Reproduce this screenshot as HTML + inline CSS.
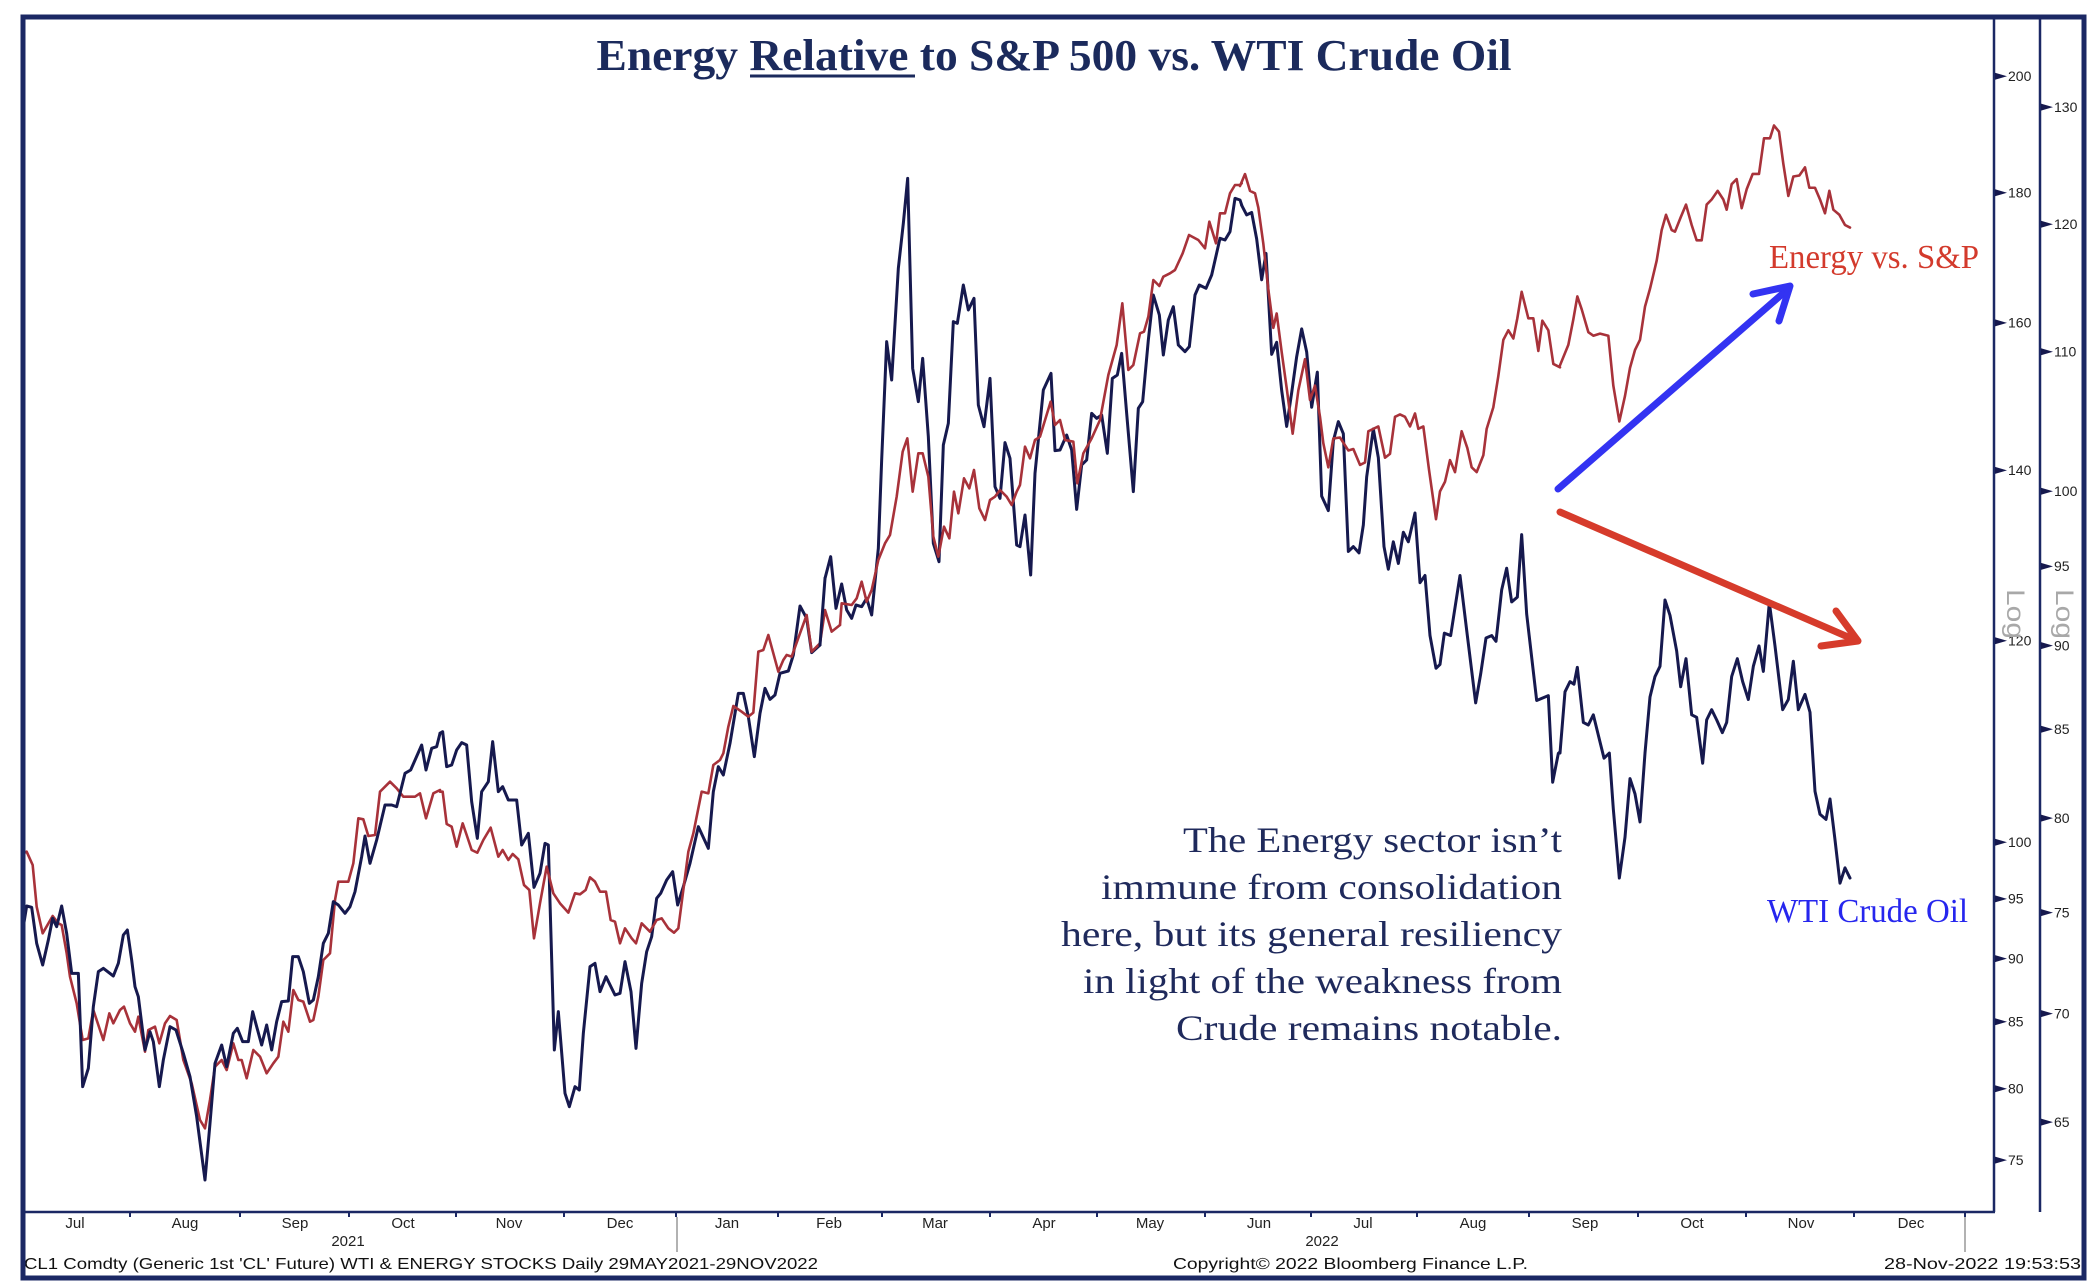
<!DOCTYPE html>
<html>
<head>
<meta charset="utf-8">
<style>
  html,body{margin:0;padding:0;background:#fff;}
  svg{display:block;}
  .ser{fill:none;stroke-linejoin:round;stroke-linecap:round;}
  .b{stroke:#16194e;stroke-width:3px;}
  .r{stroke:#a8323a;stroke-width:2.6px;}
  .ax{font-family:"Liberation Sans",sans-serif;font-size:14px;fill:#222;}
  .xl{font-family:"Liberation Sans",sans-serif;font-size:15px;fill:#222;text-anchor:middle;}
  .ft{font-family:"Liberation Sans",sans-serif;font-size:16px;fill:#111;}
  .ann{font-family:"Liberation Serif",serif;font-size:36px;fill:#1f2a5c;text-anchor:end;}
</style>
</head>
<body>
<svg width="2100" height="1287" viewBox="0 0 2100 1287" xmlns="http://www.w3.org/2000/svg">
<rect x="0" y="0" width="2100" height="1287" fill="#fff"/>

<!-- Title -->
<text x="1054" y="70" text-anchor="middle" font-family="Liberation Serif, serif" font-weight="bold" font-size="44" fill="#1b2a5c" textLength="915" lengthAdjust="spacingAndGlyphs">Energy Relative to S&amp;P 500 vs. WTI Crude Oil</text>
<line x1="750" y1="76" x2="915" y2="76" stroke="#1b2a5c" stroke-width="3"/>

<!-- Axes lines -->
<line x1="1994" y1="19" x2="1994" y2="1212" stroke="#1b2864" stroke-width="2.5"/>
<line x1="2040" y1="19" x2="2040" y2="1212" stroke="#1b2864" stroke-width="2.5"/>
<line x1="24" y1="1212" x2="1995" y2="1212" stroke="#1b2864" stroke-width="2.5"/>

<!-- Axis 1 ticks -->
<g fill="#16194e">
<polygon points="1995,72.8 1995,79.8 2007,76.3"/>
<polygon points="1995,189.2 1995,196.2 2007,192.7"/>
<polygon points="1995,319.4 1995,326.4 2007,322.9"/>
<polygon points="1995,466.9 1995,473.9 2007,470.4"/>
<polygon points="1995,637.2 1995,644.2 2007,640.7"/>
<polygon points="1995,838.7 1995,845.7 2007,842.2"/>
<polygon points="1995,895.4 1995,902.4 2007,898.9"/>
<polygon points="1995,955.1 1995,962.1 2007,958.6"/>
<polygon points="1995,1018.3 1995,1025.3 2007,1021.8"/>
<polygon points="1995,1085.3 1995,1092.3 2007,1088.8"/>
<polygon points="1995,1156.6 1995,1163.6 2007,1160.1"/>
</g>
<g class="ax">
<text x="2008" y="81">200</text>
<text x="2008" y="197.5">180</text>
<text x="2008" y="327.5">160</text>
<text x="2008" y="475">140</text>
<text x="2008" y="645.5">120</text>
<text x="2008" y="847">100</text>
<text x="2008" y="903.5">95</text>
<text x="2008" y="963.5">90</text>
<text x="2008" y="1026.5">85</text>
<text x="2008" y="1093.5">80</text>
<text x="2008" y="1165">75</text>
</g>

<!-- Axis 2 ticks -->
<g fill="#16194e">
<polygon points="2041,103.6 2041,110.6 2053,107.1"/>
<polygon points="2041,220.8 2041,227.8 2053,224.3"/>
<polygon points="2041,348.2 2041,355.2 2053,351.7"/>
<polygon points="2041,487.8 2041,494.8 2053,491.3"/>
<polygon points="2041,562.9 2041,569.9 2053,566.4"/>
<polygon points="2041,642.1 2041,649.1 2053,645.6"/>
<polygon points="2041,725.8 2041,732.8 2053,729.3"/>
<polygon points="2041,814.6 2041,821.6 2053,818.1"/>
<polygon points="2041,909.1 2041,916.1 2053,912.6"/>
<polygon points="2041,1010.1 2041,1017.1 2053,1013.6"/>
<polygon points="2041,1118.6 2041,1125.6 2053,1122.1"/>
</g>
<g class="ax">
<text x="2054" y="112">130</text>
<text x="2054" y="229">120</text>
<text x="2054" y="356.5">110</text>
<text x="2054" y="496">100</text>
<text x="2054" y="571">95</text>
<text x="2054" y="650.5">90</text>
<text x="2054" y="734">85</text>
<text x="2054" y="823">80</text>
<text x="2054" y="917.5">75</text>
<text x="2054" y="1018.5">70</text>
<text x="2054" y="1127">65</text>
</g>

<!-- Log labels -->
<text transform="translate(2007,589) rotate(90)" font-family="Liberation Sans, sans-serif" font-size="25" fill="#a8a8a8" textLength="50" lengthAdjust="spacingAndGlyphs">Log</text>
<text transform="translate(2056,589) rotate(90)" font-family="Liberation Sans, sans-serif" font-size="25" fill="#a8a8a8" textLength="50" lengthAdjust="spacingAndGlyphs">Log</text>

<!-- X ticks -->
<g stroke="#1b2864" stroke-width="2">
<line x1="130" y1="1212" x2="130" y2="1217"/>
<line x1="240" y1="1212" x2="240" y2="1217"/>
<line x1="349" y1="1212" x2="349" y2="1217"/>
<line x1="456" y1="1212" x2="456" y2="1217"/>
<line x1="564" y1="1212" x2="564" y2="1217"/>
<line x1="676" y1="1212" x2="676" y2="1217"/>
<line x1="778" y1="1212" x2="778" y2="1217"/>
<line x1="882" y1="1212" x2="882" y2="1217"/>
<line x1="990" y1="1212" x2="990" y2="1217"/>
<line x1="1097" y1="1212" x2="1097" y2="1217"/>
<line x1="1205" y1="1212" x2="1205" y2="1217"/>
<line x1="1311" y1="1212" x2="1311" y2="1217"/>
<line x1="1417" y1="1212" x2="1417" y2="1217"/>
<line x1="1529" y1="1212" x2="1529" y2="1217"/>
<line x1="1638" y1="1212" x2="1638" y2="1217"/>
<line x1="1746" y1="1212" x2="1746" y2="1217"/>
<line x1="1854" y1="1212" x2="1854" y2="1217"/>
<line x1="1965" y1="1212" x2="1965" y2="1217"/>
</g>
<line x1="677" y1="1217" x2="677" y2="1252" stroke="#999" stroke-width="1.5"/>
<line x1="1965" y1="1217" x2="1965" y2="1252" stroke="#999" stroke-width="1.5"/>

<g class="xl">
<text x="75" y="1228">Jul</text>
<text x="185" y="1228">Aug</text>
<text x="295" y="1228">Sep</text>
<text x="403" y="1228">Oct</text>
<text x="509" y="1228">Nov</text>
<text x="620" y="1228">Dec</text>
<text x="727" y="1228">Jan</text>
<text x="829" y="1228">Feb</text>
<text x="935" y="1228">Mar</text>
<text x="1044" y="1228">Apr</text>
<text x="1150" y="1228">May</text>
<text x="1259" y="1228">Jun</text>
<text x="1363" y="1228">Jul</text>
<text x="1473" y="1228">Aug</text>
<text x="1585" y="1228">Sep</text>
<text x="1692" y="1228">Oct</text>
<text x="1801" y="1228">Nov</text>
<text x="1911" y="1228">Dec</text>
<text x="348" y="1246">2021</text>
<text x="1322" y="1246">2022</text>
</g>

<!-- Footer -->
<text class="ft" x="24" y="1269" textLength="794" lengthAdjust="spacingAndGlyphs">CL1 Comdty (Generic 1st 'CL' Future) WTI &amp; ENERGY STOCKS  Daily 29MAY2021-29NOV2022</text>
<text class="ft" x="1173" y="1269" textLength="355" lengthAdjust="spacingAndGlyphs">Copyright© 2022 Bloomberg Finance L.P.</text>
<text class="ft" x="1884" y="1269" textLength="197" lengthAdjust="spacingAndGlyphs">28-Nov-2022 19:53:53</text>

<!-- Series: zoom 4 region -->
<g transform="translate(20,700) scale(0.333333,0.333333)">
<polyline class="ser r" vector-effect="non-scaling-stroke" points="10,460 20,455 38,495 50,620 68,700 98,648 115,670 125,675 140,760 150,830 170,910 188,1020 205,1015 220,930 250,1020 268,940 280,970 300,930 312,920 330,970 345,995 355,950 375,1055 385,990 405,980 418,1030 435,970 450,948 470,960 490,1080 515,1150 540,1260 555,1285 570,1200 585,1100 605,1080 620,1110 640,1030 655,1080 665,1080 680,1135 700,1050 720,1070 740,1120 760,1090 775,1070 790,965 805,995 820,870 835,900 850,905 870,965 880,960 895,890 910,780 930,760 945,600 955,545 985,545 1000,490 1015,355 1030,358 1045,408 1065,405 1080,275 1095,260 1110,245 1130,265 1150,290 1185,290 1200,280 1218,355 1240,280 1260,270"/>
<polyline class="ser b" vector-effect="non-scaling-stroke" points="10,680 20,618 35,622 50,730 68,795 85,720 98,655 110,680 125,618 140,700 155,820 175,820 188,1160 205,1105 220,920 235,815 250,805 280,828 295,790 310,705 322,690 335,780 345,860 355,890 375,1050 390,995 400,1025 418,1160 430,1080 450,980 468,990 490,1060 510,1130 530,1250 555,1440 570,1270 585,1090 605,1035 620,1100 640,1000 652,985 668,1025 685,1025 698,935 710,980 725,1035 740,975 755,1050 770,965 785,905 805,903 818,770 835,770 850,815 868,910 880,900 895,830 910,730 925,700 940,605 955,615 975,640 990,620 1005,575 1025,470 1035,408 1050,490 1070,420 1095,315 1115,315 1130,320 1155,220 1172,210 1205,135 1218,210 1235,145 1250,140 1260,100"/>
</g>

<!-- zoom 5 region -->
<g transform="translate(420,600) scale(0.333333,0.333333)">
<polyline class="ser b" vector-effect="non-scaling-stroke" points="60,400 68,395 80,500 95,495 110,450 125,428 140,435 155,605 172,715 185,575 205,545 218,425 235,575 248,560 265,600 290,600 305,735 325,700 342,862 360,820 375,730 385,735 403,1350 415,1235 435,1480 448,1520 465,1460 478,1470 490,1300 510,1100 525,1090 540,1175 558,1130 585,1185 600,1180 615,1085 633,1175 648,1345 665,1150 680,1055 695,1010 710,895 722,880 740,840 758,815 773,915 790,860 810,790 835,680 865,745 880,575 895,500 910,525 930,430 955,280 970,280 985,350 1003,470 1020,340 1035,265 1050,298 1065,285 1080,220 1105,213 1120,165 1140,18 1160,55 1175,158 1200,135"/>
<polyline class="ser r" vector-effect="non-scaling-stroke" points="60,575 68,575 80,672 95,680 110,740 128,670 140,705 155,750 172,758 190,720 212,683 235,770 248,750 265,780 278,762 295,778 312,855 328,870 342,1015 360,910 380,800 400,880 420,910 445,938 465,880 480,883 497,870 510,832 525,845 540,875 558,875 572,960 585,965 600,1030 615,985 635,1015 648,1030 665,970 690,995 710,960 725,955 745,985 762,998 775,985 790,870 805,755 820,700 845,575 865,580 880,495 900,480 910,460 925,380 940,318 965,335 985,350 1000,338 1015,155 1030,150 1045,105 1060,160 1075,215 1090,180 1100,165 1115,170 1140,100 1160,45 1175,155 1200,130 1215,30 1235,95 1260,75"/>
</g>

<!-- zoom 6 region -->
<g transform="translate(820,160) scale(0.333333,0.333333)">
<polyline class="ser b" vector-effect="non-scaling-stroke" points="15,1255 32,1190 48,1345 65,1272 80,1350 95,1375 108,1335 125,1340 140,1315 155,1365 175,1165 185,900 200,545 215,660 235,325 250,190 263,55 278,625 295,725 308,595 325,830 340,1150 357,1205 370,855 385,790 400,485 412,490 430,375 445,450 462,415 475,735 492,800 510,655 525,980 540,1015 555,848 570,895 590,1155 600,1160 615,1065 632,1245 645,940 670,690 693,640 705,872 720,870 740,825 755,870 770,1048 785,915 800,900 815,760 830,775 845,765 862,880 877,655 892,645 905,580 920,760 940,995 955,745 968,725 985,540 1000,405 1018,465 1030,585 1045,480 1060,440 1075,555 1095,575 1108,560 1125,405 1138,375 1158,385 1175,345 1200,235 1215,240 1230,215 1245,115 1260,120 1265,135"/>
<polyline class="ser r" vector-effect="non-scaling-stroke" points="60,1395 65,1330 95,1335 110,1315 125,1265 140,1325 155,1290 175,1200 195,1150 210,1125 230,1010 248,875 262,835 278,995 295,880 308,880 325,950 340,1130 355,1190 372,1100 388,1135 402,995 415,1060 432,955 448,985 462,930 478,1045 495,1080 510,1020 525,1010 540,990 560,1010 575,1035 590,995 600,975 615,860 630,895 645,840 660,830 692,725 705,795 720,780 735,840 760,845 772,970 790,880 815,835 840,780 865,645 890,555 907,430 925,630 940,615 960,520 972,515 985,470 1000,360 1018,378 1030,350 1050,340 1065,330 1088,280 1107,225 1135,240 1155,265 1168,185 1188,250 1200,160 1215,160 1230,100 1245,75 1260,75 1265,70"/>
</g>
<polyline class="ser b" points="820,645 825,578.3"/>

<!-- zoom 7 region -->
<g transform="translate(1230,150) scale(0.333333,0.480769)">
<polyline class="ser b" vector-effect="non-scaling-stroke" points="35,115 50,135 65,130 80,185 95,270 108,215 125,425 140,400 155,500 170,575 185,505 200,430 215,372 230,420 245,535 262,462 275,720 295,750 310,605 325,565 340,590 355,835 370,825 387,838 400,780 410,680 430,580 445,640 462,825 475,872 490,815 505,860 520,795 535,815 555,755 570,900 585,885 600,1010 618,1078 630,1070 643,1005 662,1010 690,885 712,1010 737,1150 752,1090 768,1015 785,1010 798,1022 815,915 830,870 845,940 862,930 875,800 890,965 920,1145 955,1135 968,1315 985,1255 990,1252"/>
<polyline class="ser r" vector-effect="non-scaling-stroke" points="30,75 45,50 60,85 75,90 85,120 100,195 115,290 130,370 140,340 155,420 170,495 188,590 205,500 225,435 240,520 255,490 270,555 280,610 295,660 310,600 330,598 355,625 370,622 390,655 405,650 415,585 445,575 465,640 480,632 495,555 510,550 525,555 540,575 555,548 565,580 580,575 597,665 618,768 630,710 645,690 660,645 675,670 695,585 712,620 725,660 740,670 760,635 770,580 790,535 805,470 820,395 835,375 850,392 862,350 875,295 895,350 910,350 925,418 937,355 955,375 970,445 990,452"/>
</g>

<!-- zoom 8 region -->
<g transform="translate(1560,100) scale(0.333333,0.510204)">
<polyline class="ser r" vector-effect="non-scaling-stroke" points="0,520 25,480 40,430 52,385 65,410 85,455 100,462 120,458 145,462 160,560 178,630 195,580 210,525 225,490 240,470 255,405 270,370 290,315 305,255 318,225 335,255 345,258 362,230 378,205 395,245 410,275 425,275 440,205 455,195 473,178 490,195 500,215 515,165 530,155 545,212 560,175 578,145 597,145 612,75 630,75 642,50 657,62 670,125 685,188 700,150 718,148 735,132 748,172 765,172 780,195 795,222 808,178 820,215 838,225 855,245 870,250"/>
<polyline class="ser b" vector-effect="non-scaling-stroke" points="0,1280 15,1160 30,1140 42,1145 52,1112 70,1220 85,1225 100,1205 115,1245 132,1290 148,1280 160,1390 178,1525 195,1445 210,1330 225,1360 240,1415 255,1280 270,1170 285,1130 300,1110 315,980 330,1010 350,1080 362,1150 378,1095 395,1205 410,1210 428,1300 440,1215 455,1195 470,1215 487,1240 500,1220 515,1130 532,1095 548,1140 565,1175 580,1110 597,1070 610,1120 628,985 645,1070 668,1195 685,1175 700,1100 715,1195 735,1165 750,1200 765,1355 780,1400 798,1410 810,1370 825,1450 840,1535 855,1505 870,1525"/>
</g>

<!-- Annotation -->
<text class="ann" x="1562" y="852" textLength="379" lengthAdjust="spacingAndGlyphs">The Energy sector isn’t</text>
<text class="ann" x="1562" y="899" textLength="461" lengthAdjust="spacingAndGlyphs">immune from consolidation</text>
<text class="ann" x="1562" y="946" textLength="501" lengthAdjust="spacingAndGlyphs">here, but its general resiliency</text>
<text class="ann" x="1562" y="993" textLength="479" lengthAdjust="spacingAndGlyphs">in light of the weakness from</text>
<text class="ann" x="1562" y="1040" textLength="386" lengthAdjust="spacingAndGlyphs">Crude remains notable.</text>

<text x="1769" y="268" font-family="Liberation Serif, serif" font-size="34" fill="#d33a2c" textLength="210" lengthAdjust="spacingAndGlyphs">Energy vs. S&amp;P</text>
<text x="1767" y="922" font-family="Liberation Serif, serif" font-size="34" fill="#2626ee" textLength="201" lengthAdjust="spacingAndGlyphs">WTI Crude Oil</text>

<!-- Arrows -->
<g fill="none" stroke-linecap="round" stroke-linejoin="round">
<line x1="1558" y1="489" x2="1788" y2="289" stroke="#3333f2" stroke-width="7"/>
<polyline points="1753,294 1790,286 1779,321" stroke="#3333f2" stroke-width="7"/>
<line x1="1560" y1="512" x2="1855" y2="640" stroke="#d63b2b" stroke-width="7"/>
<polyline points="1836,611 1858,641 1821,646" stroke="#d63b2b" stroke-width="7"/>
</g>

<!-- Outer frame -->
<rect x="23" y="17" width="2061" height="1261" fill="none" stroke="#1b2864" stroke-width="5"/>
</svg>
</body>
</html>
